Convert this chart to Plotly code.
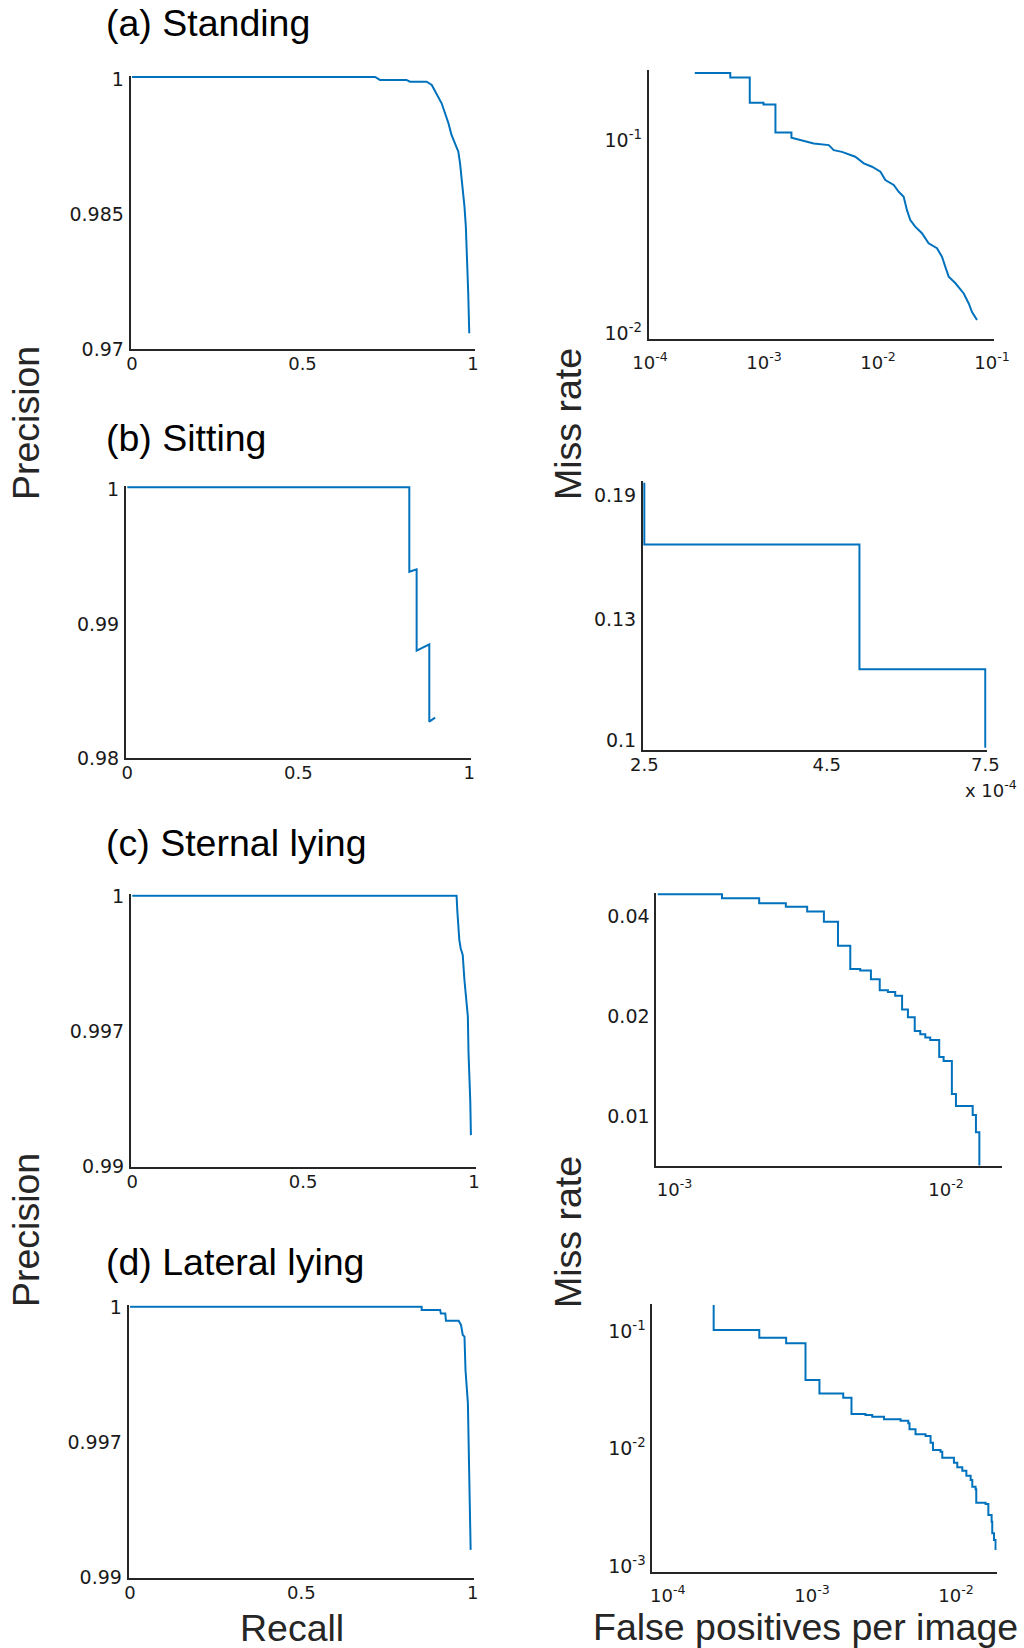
import plotly.graph_objects as go

# ---------------- data ----------------
# (a) Standing
recall_a = [0, 0.713, 0.727, 0.805, 0.815, 0.864, 0.879, 0.893, 0.908, 0.918, 0.928,
            0.937, 0.947, 0.957, 0.962, 0.969, 0.975, 0.979, 0.983, 0.986, 0.989]
prec_a = [1.0, 1.0, 0.99967, 0.99967, 0.99948, 0.99948, 0.99911, 0.99819, 0.99708, 0.99597,
          0.99486, 0.99356, 0.99263, 0.9917, 0.99041, 0.98819, 0.98559, 0.98337, 0.97967,
          0.97597, 0.97152]
fppi_a = [2.47e-4, 5.06e-4, 5.06e-4, 7.5e-4, 7.5e-4, 9.9e-4, 9.9e-4, 1.26e-3, 1.26e-3,
          1.74e-3, 1.74e-3, 2.23e-3, 2.73e-3, 3.70e-3, 4.09e-3, 4.83e-3, 6.32e-3, 7.5e-3,
          8.86e-3, 0.0105, 0.0116, 0.01374, 0.0152, 0.0168, 0.01795, 0.0192, 0.0212, 0.0243,
          0.0278, 0.0329, 0.0364, 0.0389, 0.0417, 0.0476, 0.0565, 0.0625, 0.0668, 0.0739]
miss_a = [0.210, 0.210, 0.199, 0.199, 0.147, 0.147, 0.144, 0.144, 0.103, 0.103, 0.097,
          0.0933, 0.0905, 0.0887, 0.0835, 0.0818, 0.0772, 0.0713, 0.0685, 0.0646, 0.0585,
          0.0551, 0.0508, 0.0479, 0.0408, 0.0363, 0.0335, 0.0310, 0.0275, 0.0259, 0.0234,
          0.0208, 0.01845, 0.0171, 0.0151, 0.0134, 0.0121, 0.0110]

# (b) Sitting
recall_b = [0, 0.8246, 0.8246, 0.846, 0.846, 0.883, 0.883, 0.900]
prec_b = [1.0, 1.0, 0.99373, 0.99391, 0.98787, 0.98834, 0.9826, 0.9829]
fppi_b = [2.5e-4, 5e-4, 7.5e-4, 7.5e-4]
miss_b = [0.1962, 0.1669, 0.1204, 0.098]

# (c) Sternal lying
recall_c = [0, 0.949, 0.951, 0.957, 0.961, 0.967, 0.972, 0.977, 0.982, 0.984, 0.987,
            0.989, 0.991]
prec_c = [1.0, 1.0, 0.99947, 0.99836, 0.99805, 0.9978, 0.99687, 0.99613, 0.99551,
          0.99415, 0.99334, 0.99241, 0.99111]
fppi_c = [8.67e-4, 1.496e-3, 2.05e-3, 2.57e-3, 3.08e-3, 3.55e-3, 4.0e-3, 4.44e-3, 4.83e-3,
          5.29e-3, 5.7e-3, 6.11e-3, 6.5e-3, 6.89e-3, 7.24e-3, 7.67e-3, 8.04e-3, 8.39e-3,
          8.75e-3, 9.44e-3, 9.8e-3, 0.01051, 0.01088, 0.01254, 0.01289, 0.01327]
miss_c = [0.0467, 0.0454, 0.0439, 0.0428, 0.0414, 0.0386, 0.0327, 0.0278, 0.0275, 0.0259,
          0.0240, 0.0237, 0.0231, 0.0210, 0.0199, 0.0181, 0.0177, 0.0173, 0.0170, 0.0151,
          0.0147, 0.01169, 0.01076, 0.01011, 0.00897, 0.0070]

# (d) Lateral lying
recall_d = [0, 0.851, 0.851, 0.905, 0.907, 0.920, 0.922, 0.959, 0.966, 0.971, 0.976,
            0.979, 0.986, 0.989, 0.992, 0.994]
prec_d = [1.0, 1.0, 0.99988, 0.99988, 0.99975, 0.99975, 0.99948, 0.99948, 0.99932,
          0.99895, 0.99889, 0.99765, 0.99641, 0.99456, 0.99294, 0.99097]
fppi_d = [2.08e-4, 2.08e-4, 4.31e-4, 6.62e-4, 9.02e-4, 1.127e-3, 1.648e-3, 1.88e-3,
          2.35e-3, 2.62e-3, 3.16e-3, 4.12e-3, 4.66e-3, 4.75e-3, 5.23e-3, 6.14e-3, 6.65e-3,
          6.91e-3, 7.8e-3, 8.02e-3, 9.66e-3, 0.01019, 0.01104, 0.01178, 0.01262, 0.01295,
          0.01365, 0.0138, 0.01602, 0.01674, 0.01764, 0.01782, 0.01832, 0.01879]
miss_d = [0.151, 0.0924, 0.0795, 0.0713, 0.0347, 0.0267, 0.0245, 0.0178, 0.0175, 0.0169,
          0.01606, 0.01563, 0.01486, 0.01321, 0.01197, 0.01159, 0.01016, 0.00881, 0.00852,
          0.00757, 0.00687, 0.00627, 0.00587, 0.00532, 0.00489, 0.00429, 0.00407, 0.00313,
          0.00305, 0.00246, 0.00216, 0.00172, 0.00151, 0.00124]

panel_titles = ["(a) Standing", "(b) Sitting", "(c) Sternal lying", "(d) Lateral lying"]

# tick values / labels
pr_x_ticks = [0, 0.5, 1]
pr_x_text = ["0", "0.5", "1"]
pr_y_ticks_a = [0.97, 0.985, 1]
pr_y_text_a = ["0.97", "0.985", "1"]
pr_y_ticks_b = [0.98, 0.99, 1]
pr_y_text_b = ["0.98", "0.99", "1"]
pr_y_ticks_cd = [0.99, 0.995, 1]
pr_y_text_cd = ["0.99", "0.997", "1"]
mr_x_ticks_a = [1e-4, 1e-3, 1e-2, 1e-1]
mr_x_text_a = ["10<sup>-4</sup>", "10<sup>-3</sup>", "10<sup>-2</sup>", "10<sup>-1</sup>"]
mr_y_ticks_a = [1e-2, 1e-1]
mr_y_text_a = ["10<sup>-2</sup>", "10<sup>-1</sup>"]
mr_x_ticks_b = [2.5e-4, 4.5e-4, 7.5e-4]
mr_x_text_b = ["2.5", "4.5", "7.5"]
mr_y_ticks_b = [0.1, 0.137, 0.19]
mr_y_text_b = ["0.1", "0.13", "0.19"]
mr_x_ticks_c = [1e-3, 1e-2]
mr_x_text_c = ["10<sup>-3</sup>", "10<sup>-2</sup>"]
mr_y_ticks_c = [0.01, 0.02, 0.04]
mr_y_text_c = ["0.01", "0.02", "0.04"]
mr_x_ticks_d = [1e-4, 1e-3, 1e-2]
mr_x_text_d = ["10<sup>-4</sup>", "10<sup>-3</sup>", "10<sup>-2</sup>"]
mr_y_ticks_d = [1e-3, 1e-2, 1e-1]
mr_y_text_d = ["10<sup>-3</sup>", "10<sup>-2</sup>", "10<sup>-1</sup>"]

# ---------------- layout helpers ----------------
W, H = 1024, 1648
PAD = 1.5
AX = "#262626"
BLUE = "#0072BD"
TICKFONT_X = dict(family="DejaVu Sans", size=18, color="#1a1a1a")
TICKFONT_Y = dict(family="DejaVu Sans", size=19, color="#1a1a1a")


def xaxis_cfg(px0, px1, v0, v1, log, tv, tt, anchor, standoff):
    k = (v1 - v0) / (px1 - px0)
    return dict(
        domain=[(px0 - PAD) / W, (px1 + PAD) / W],
        range=[v0 - PAD * k, v1 + PAD * k],
        type="log" if log else "linear",
        tickmode="array", tickvals=tv, ticktext=tt,
        showline=True, linecolor=AX, linewidth=1.6, mirror=False,
        showgrid=False, zeroline=False, ticks="", tickfont=TICKFONT_X,
        ticklabelstandoff=standoff,
        automargin=False, anchor=anchor, fixedrange=True,
    )


def yaxis_cfg(py_top, py_bot, v_top, v_bot, log, tv, tt, anchor, shift):
    k = (v_top - v_bot) / (py_bot - py_top)
    return dict(
        domain=[1 - (py_bot + PAD) / H, 1 - (py_top - PAD) / H],
        range=[v_bot - PAD * k, v_top + PAD * k],
        type="log" if log else "linear",
        tickmode="array", tickvals=tv, ticktext=tt,
        showline=True, linecolor=AX, linewidth=1.6, mirror=False,
        showgrid=False, zeroline=False, ticks="", tickfont=TICKFONT_Y,
        ticklabelstandoff=1, ticklabelshift=shift,
        automargin=False, anchor=anchor, fixedrange=True,
    )


fig = go.Figure()

series = [
    (recall_a, prec_a, "linear"),
    (fppi_a, miss_a, "linear"),
    (recall_b, prec_b, "linear"),
    (fppi_b, miss_b, "vh"),
    (recall_c, prec_c, "linear"),
    (fppi_c, miss_c, "hv"),
    (recall_d, prec_d, "linear"),
    (fppi_d, miss_d, "hv"),
]

for i, (xs, ys, shape) in enumerate(series, start=1):
    suffix = "" if i == 1 else str(i)
    fig.add_trace(go.Scatter(
        x=xs, y=ys, mode="lines", line=dict(color=BLUE, width=2, shape=shape),
        xaxis="x" + suffix, yaxis="y" + suffix, showlegend=False, hoverinfo="skip",
    ))

axes = {
    1: (xaxis_cfg(132, 473, 0, 1, False, pr_x_ticks, pr_x_text, "y", -2),
        yaxis_cfg(77, 347, 1.0, 0.97, False, pr_y_ticks_a, pr_y_text_a, "x", 2)),
    2: (xaxis_cfg(650, 992, -4, -1, True, mr_x_ticks_a, mr_x_text_a, "y2", 7),
        yaxis_cfg(71, 337, -0.668, -2.0466, True, mr_y_ticks_a, mr_y_text_a, "x2", 5)),
    3: (xaxis_cfg(127.3, 469.3, 0, 1, False, pr_x_ticks, pr_x_text, "y3", -3),
        yaxis_cfg(487.3, 756.7, 1.0, 0.98, False, pr_y_ticks_b, pr_y_text_b, "x3", 2)),
    4: (xaxis_cfg(644.3, 985.3, -3.6021, -3.1249, True, mr_x_ticks_b, mr_x_text_b, "y4", -2),
        yaxis_cfg(482.7, 748.3, -0.7073, -1.0094, True, mr_y_ticks_b, mr_y_text_b, "x4", 0)),
    5: (xaxis_cfg(132.3, 474, 0, 1, False, pr_x_ticks, pr_x_text, "y5", -2),
        yaxis_cfg(895.7, 1165, 1.0, 0.99, False, pr_y_ticks_cd, pr_y_text_cd, "x5", 1)),
    6: (xaxis_cfg(657.7, 1000.3, -3.062, -1.80, True, mr_x_ticks_c, mr_x_text_c, "y6", 7),
        yaxis_cfg(894, 1164, -1.330, -2.143, True, mr_y_ticks_c, mr_y_text_c, "x6", 0)),
    7: (xaxis_cfg(130, 472.7, 0, 1, False, pr_x_ticks, pr_x_text, "y7", -2),
        yaxis_cfg(1306.7, 1576, 1.0, 0.99, False, pr_y_ticks_cd, pr_y_text_cd, "x7", 1)),
    8: (xaxis_cfg(653.7, 995.3, -4.098, -1.728, True, mr_x_ticks_d, mr_x_text_d, "y8", 7),
        yaxis_cfg(1305, 1570, -0.821, -3.077, True, mr_y_ticks_d, mr_y_text_d, "x8", 5)),
}

layout_axes = {}
for i, (xa, ya) in axes.items():
    suffix = "" if i == 1 else str(i)
    layout_axes["xaxis" + suffix] = xa
    layout_axes["yaxis" + suffix] = ya


def px_ann(text, x, y, size, color="black", angle=0, xanchor="center", family="Liberation Sans"):
    return dict(
        text=text, x=x / W, y=1 - y / H, xref="paper", yref="paper",
        xanchor=xanchor, yanchor="middle", showarrow=False, textangle=angle,
        font=dict(family=family, size=size, color=color),
    )


annotations = [
    px_ann(panel_titles[0], 104, 23, 37.5, xanchor="left"),
    px_ann(panel_titles[1], 104, 438, 37.5, xanchor="left"),
    px_ann(panel_titles[2], 104, 843, 37.5, xanchor="left"),
    px_ann(panel_titles[3], 104, 1262, 37.5, xanchor="left"),
    px_ann("Precision", 26, 423, 37.5, color=AX, angle=-90),
    px_ann("Precision", 26, 1230, 37.5, color=AX, angle=-90),
    px_ann("Miss rate", 568, 424, 37.5, color=AX, angle=-90),
    px_ann("Miss rate", 568, 1232, 37.5, color=AX, angle=-90),
    px_ann("Recall", 292, 1628, 37.5, color=AX),
    px_ann("False positives per image", 805, 1627, 37.5, color=AX),
    px_ann("x 10<sup>-4</sup>", 991, 789, 18, color="#1a1a1a", family="DejaVu Sans"),
]

fig.update_layout(
    width=W, height=H, autosize=False,
    margin=dict(l=0, r=0, t=0, b=0, pad=0, autoexpand=False),
    paper_bgcolor="white", plot_bgcolor="white",
    showlegend=False,
    annotations=annotations,
    **layout_axes,
)

fig.write_html("out.html", config={"displayModeBar": False},
               post_script="document.body.style.margin='0px';")
